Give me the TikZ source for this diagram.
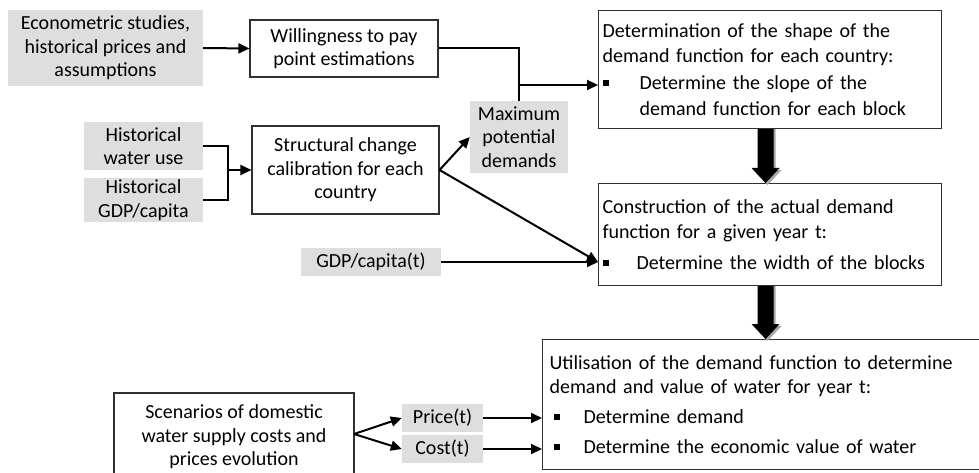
\documentclass[tikz,border=0pt]{standalone}
\usepackage{fontspec}
\setmainfont{Carlito}
\usetikzlibrary{arrows.meta,calc}
\definecolor{grayfill}{HTML}{DEDEDE}
\definecolor{boxline}{HTML}{303030}
\newcommand\bulsq[1]{\makebox[#1][l]{\raisebox{3.5pt}{\rule{6pt}{6pt}}}}
\newcommand\fatarrow[2]{%
  \fill[black!35] ($(#1)+(-6,0)$) -- ($(#2)+(-6,-13)$) -- ($(#2)+(-12,-13)$) -- ($(#2)+(2,2)$) -- ($(#2)+(16,-13)$) -- ($(#2)+(10,-13)$) -- ($(#1)+(10,0)$) -- cycle;
  \fill[black] ($(#1)+(-8,0)$) -- ($(#2)+(-8,-15)$) -- ($(#2)+(-14,-15)$) -- (#2) -- ($(#2)+(14,-15)$) -- ($(#2)+(8,-15)$) -- ($(#1)+(8,0)$) -- cycle;}
\begin{document}
\begin{tikzpicture}[x=1pt,y=-1pt,
  every node/.style={font=\fontsize{20}{23.5}\selectfont, inner sep=0pt},
  wbox/.style={draw=boxline, line width=1.1pt, fill=white, align=center},
  gbox/.style={fill=grayfill, align=center},
  listbox/.style={draw=boxline, line width=1.1pt, fill=white, align=left, anchor=north west},
  conn/.style={line width=2pt, -{Triangle[length=11pt,width=10pt]}},
  plain/.style={line width=2pt}]
\useasboundingbox (0,0) rectangle (979,473);

% grey input boxes
\node[gbox, minimum width=195pt, minimum height=76pt] (econ) at (105.5,48) {Econometric studies,\\historical prices and\\assumptions};
\node[gbox, minimum width=119pt, minimum height=48pt] (hwu) at (143.5,146) {Historical\\water use};
\node[gbox, minimum width=119pt, minimum height=44pt] (hgdp) at (143.5,200) {Historical\\GDP/capita};
\node[gbox, minimum width=98pt, minimum height=72pt] (maxd) at (519,137) {Maximum\\potential\\demands};
\node[gbox, minimum width=140pt, minimum height=28pt] (gdpt) at (371,262) {GDP/capita(t)};
\node[gbox, minimum width=81pt, minimum height=28pt] (price) at (442.5,418) {Price(t)};
\node[gbox, minimum width=81pt, minimum height=28pt] (cost) at (442.5,449) {Cost(t)};

% white process boxes
\node[wbox, minimum width=188pt, minimum height=57pt] (will) at (344,48.5) {Willingness to pay\\point estimations};
\node[wbox, minimum width=187pt, minimum height=88pt] (struct) at (345.5,170) {Structural change\\calibration for each\\country};
\node[wbox, minimum width=240pt, minimum height=88pt] (scen) at (234,437) {Scenarios of domestic\\water supply costs and\\prices evolution};

% list boxes
\node[listbox, text width=335pt, inner xsep=4pt, minimum height=118pt,
      font=\fontsize{20}{25.5}\selectfont] (det) at (598,10)
  {Determination of the shape of the\\demand function for each country:\\[1.5pt]
   \bulsq{37pt}Determine the slope of the\\\hspace*{37pt}demand function for each block};
\node[listbox, text width=335pt, inner xsep=4pt, minimum height=102pt,
      font=\fontsize{20}{25.5}\selectfont] (cons) at (598,183)
  {Construction of the actual demand\\function for a given year t:\\[5pt]
   \bulsq{34pt}Determine the width of the blocks};
\node[listbox, text width=433pt, inner xsep=7pt, minimum height=130pt] (util) at (542,339)
  {Utilisation of the demand function to determine\\demand and value of water for year t:\\[6.5pt]
   \hspace*{4pt}\bulsq{30pt}Determine demand\\[6.5pt]
   \hspace*{4pt}\bulsq{30pt}Determine the economic value of water};

% connectors
\draw[conn] (econ.east) -- (will.west);
\draw[plain] (will.east) -| (maxd.north);
\coordinate (j1) at (maxd.north |- 0,85);
\draw[conn] (j1) -- (j1 -| det.west);

\coordinate (j2) at (228,170);
\draw[plain] (hwu.east) -| (j2 |- hgdp.east) -- (hgdp.east);
\draw[conn] (j2) -- (j2 -| struct.west);

\coordinate (c1) at (cons.west |- gdpt.east);
\draw[conn] (struct.east) -- (maxd.west);
\draw[conn] (struct.east) -- (c1);
\draw[conn] (gdpt.east) -- (c1);

\fatarrow{[xshift=-4.5pt]det.south}{[xshift=-4.5pt]cons.north}
\coordinate (u1) at ([xshift=-4.5pt]cons.south);
\fatarrow{u1}{u1 |- util.north}

\coordinate (s1) at (354,434);
\draw[conn] (s1) -- (price.west);
\draw[conn] (s1) -- (cost.west);
\draw[conn] (price.east) -- (price.east -| util.west);
\draw[conn] (cost.east) -- (cost.east -| util.west);
\end{tikzpicture}
\end{document}
